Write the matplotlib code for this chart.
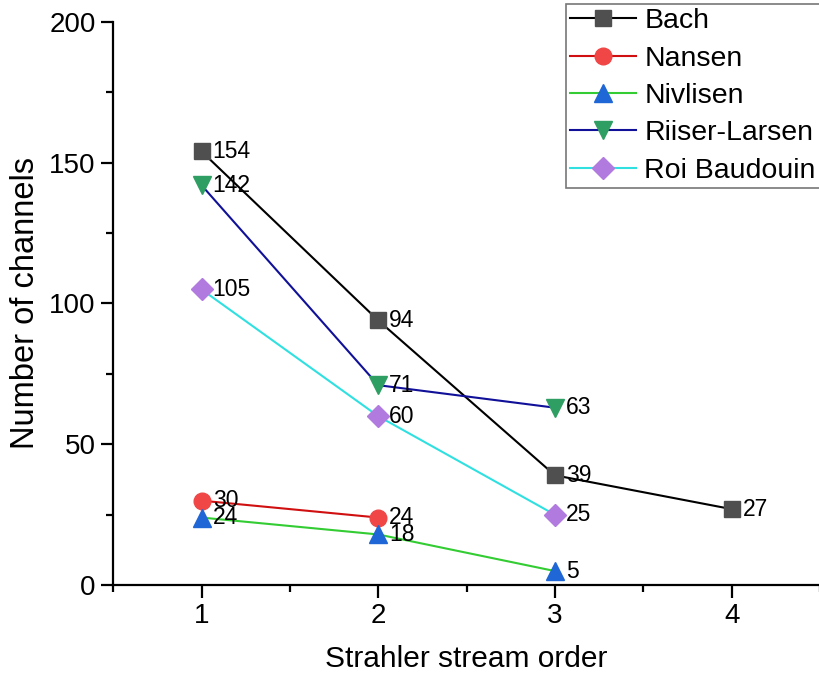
import numpy as np
import matplotlib
matplotlib.use("Agg")
import matplotlib.pyplot as plt
from matplotlib.ticker import MultipleLocator

plt.rcParams['font.family'] = ['Liberation Sans', 'DejaVu Sans']

# data
bach_x = [1, 2, 3, 4]
bach_y = [154, 94, 39, 27]
nansen_x = [1, 2]
nansen_y = [30, 24]
nivlisen_x = [1, 2, 3]
nivlisen_y = [24, 18, 5]
riiser_x = [1, 2, 3]
riiser_y = [142, 71, 63]
roi_x = [1, 2, 3]
roi_y = [105, 60, 25]

series = [
    ("Bach", bach_x, bach_y, "black", "#4f4f4f", "s", 11),
    ("Nansen", nansen_x, nansen_y, "#d01010", "#f04646", "o", 12),
    ("Nivlisen", nivlisen_x, nivlisen_y, "#33cc33", "#1f66d6", "^", 13),
    ("Riiser-Larsen", riiser_x, riiser_y, "#101099", "#2e9e62", "v", 13),
    ("Roi Baudouin", roi_x, roi_y, "#30e0e0", "#b07ade", "D", 11),
]

fig = plt.figure(figsize=(8.2, 6.82), dpi=100)
ax = fig.add_axes([0.138, 0.142, 0.862, 0.826])

for name, xs, ys, lc, mc, mk, ms in series:
    ax.plot(xs, ys, color=lc, lw=1.5, marker=mk, markersize=ms,
            markerfacecolor=mc, markeredgecolor=mc, label=name)
    for x, y in zip(xs, ys):
        ax.annotate(str(y), (x, y), xytext=(8, 0), textcoords="offset points",
                    ha="left", va="center", fontsize=16.5)

ax.set_xlim(0.5, 4.5)
ax.set_ylim(0, 200)
ax.xaxis.set_major_locator(MultipleLocator(1))
ax.xaxis.set_minor_locator(MultipleLocator(0.5))
ax.yaxis.set_major_locator(MultipleLocator(50))
ax.yaxis.set_minor_locator(MultipleLocator(25))
ax.spines['top'].set_visible(False)
ax.spines['right'].set_visible(False)
for s in ['left', 'bottom']:
    ax.spines[s].set_linewidth(1.6)
ax.tick_params(which='major', length=9, width=1.6, labelsize=20, direction='out')
ax.tick_params(which='minor', length=5, width=1.6, direction='out')
ax.set_xlabel("Strahler stream order", fontsize=21.5, labelpad=12)
ax.set_ylabel("Number of channels", fontsize=23.5, labelpad=6)

leg = fig.legend(loc="upper left", bbox_to_anchor=(566 / 820, 1 - 4 / 682), fontsize=20.5,
                 frameon=True, fancybox=False, edgecolor="#555555",
                 handlelength=2.3, handletextpad=0.3, labelspacing=0.4,
                 borderpad=0.15, borderaxespad=0)
leg.get_frame().set_linewidth(1.2)

plt.savefig("out.png", dpi=100)
